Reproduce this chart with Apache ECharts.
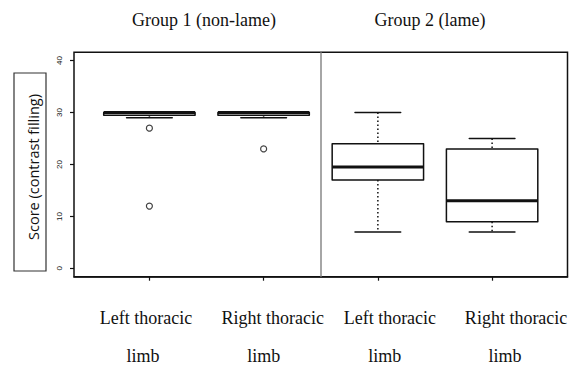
<!DOCTYPE html>
<html>
<head>
<meta charset="utf-8">
<script src="https://cdn.jsdelivr.net/npm/echarts@6/dist/echarts.min.js"></script>
<style>html,body{margin:0;padding:0;background:#fff;}#c{width:577px;height:367px;}</style>
</head>
<body>
<div id="c"></div>
<script>
// ---- data ----
var labelLine1 = ['Left thoracic', 'Right thoracic', 'Left thoracic', 'Right thoracic'];
var labelLine2 = ['limb', 'limb', 'limb', 'limb'];
var positions = [1, 2, 3, 4];
// [min, Q1, median, Q3, max]
var boxValues = [
  [29, 29.5, 30, 30, 30],
  [29, 29.5, 30, 30, 30],
  [7, 17, 19.5, 24, 30],
  [7, 9, 13, 23, 25]
];
var outliers = [[1, 27], [1, 12], [2, 23]];
var groupNames = ['Group 1 (non-lame)', 'Group 2 (lame)'];
var groupCenters = [1.5, 3.5];
var groupDivider = 2.5;
var yTicks = [0, 10, 20, 30, 40];
var yTitle = 'Score (contrast filling)';

// ---- build ----
var boxData = positions.map(function (p, i) { return [p].concat(boxValues[i]); });
var SERIF = 'Liberation Serif, Times New Roman, serif';
var linePads = [[[0, 7], [0, 13]], [[18, 0], [0, 0]], [[24, 0], [14, 0]], [[48, 0], [26, 0]]];
var rich = {};
positions.forEach(function (p, i) {
  rich['a' + i] = { fontFamily: SERIF, fontSize: 18, color: '#111', lineHeight: 38,
    padding: [0, linePads[i][0][1], 0, linePads[i][0][0]] };
  rich['b' + i] = { fontFamily: SERIF, fontSize: 18, color: '#111', lineHeight: 38,
    padding: [0, linePads[i][1][1], 0, linePads[i][1][0]] };
});
var groupPads = [[0, 5], [0, 10]];
var grich = {};
groupCenters.forEach(function (g, i) {
  grich['g' + i] = { fontFamily: SERIF, fontSize: 18, color: '#111', lineHeight: 20,
    padding: [0, groupPads[i][1], 0, groupPads[i][0]] };
});
function catFormatter(v) {
  var i = positions.indexOf(v);
  if (i < 0) return '';
  return '{a' + i + '|' + labelLine1[i] + '}\n{b' + i + '|' + labelLine2[i] + '}';
}
var oddPos = positions.filter(function (p, i) { return i % 2 === 0; });
var evenPos = positions.filter(function (p, i) { return i % 2 === 1; });

var chart = echarts.init(document.getElementById('c'), null, { renderer: 'svg' });
chart.setOption({
  animation: false,
  backgroundColor: '#fff',
  grid: { left: 74, right: 9.5, top: 52.3, bottom: 90.3, outerBoundsMode: 'none', containLabel: false, show: true, borderColor: '#111', borderWidth: 1.5, backgroundColor: 'transparent' },
  xAxis: [{
    type: 'value', min: 0.34, max: 4.66, position: 'bottom',
    axisLine: { show: true, onZero: false, lineStyle: { color: '#111', width: 1.5 } },
    axisTick: { show: true, length: 4, customValues: positions, lineStyle: { color: '#111', width: 1.2 } },
    splitLine: { show: false },
    axisLabel: { customValues: oddPos, margin: 22, showMinLabel: true, showMaxLabel: true, formatter: catFormatter, rich: rich }
  }, {
    type: 'value', min: 0.34, max: 4.66, position: 'top',
    axisLine: { show: false }, axisTick: { show: false }, splitLine: { show: false },
    axisLabel: {
      customValues: groupCenters, margin: 22, showMinLabel: true, showMaxLabel: true,
      formatter: function (v) {
        var i = groupCenters.indexOf(v);
        if (i < 0) return '';
        return '{g' + i + '|' + groupNames[i] + '}';
      },
      rich: grich
    }
  }, {
    type: 'value', min: 0.34, max: 4.66, position: 'bottom', offset: 0,
    axisLine: { show: false, onZero: false }, axisTick: { show: false }, splitLine: { show: false },
    axisLabel: { customValues: evenPos, margin: 22, showMinLabel: true, showMaxLabel: true, formatter: catFormatter, rich: rich }
  }],
  yAxis: {
    type: 'value', min: -1.6, max: 41.6,
    axisLine: { show: false },
    axisTick: { show: true, length: 4, customValues: yTicks, lineStyle: { color: '#111', width: 1.2 } },
    splitLine: { show: false },
    axisLabel: { customValues: yTicks, rotate: 90, margin: 11, fontSize: 8, color: '#111', showMinLabel: true, showMaxLabel: true, fontFamily: 'Liberation Sans, Arial, sans-serif' }
  },
  graphic: [{
    type: 'rect', shape: { x: 14, y: 73, width: 32, height: 198 },
    style: { fill: 'none', stroke: '#333', lineWidth: 1.2 }
  }, {
    type: 'text', x: 33, y: 167, rotation: Math.PI / 2,
    style: { text: yTitle, fontFamily: 'Open Sans, sans-serif', fontSize: 14.5, fill: '#111', align: 'center', verticalAlign: 'middle' }
  }],
  series: [{
    type: 'custom',
    xAxisIndex: 0,
    data: boxData,
    encode: { x: 0, y: [1, 2, 3, 4, 5] },
    renderItem: function (params, api) {
      var x = api.value(0);
      var mn = api.value(1), q1 = api.value(2), md = api.value(3), q3 = api.value(4), mx = api.value(5);
      var bh = 0.4, ch = 0.2;
      var L = api.coord([x - bh, q3]), R = api.coord([x + bh, q1]);
      var c = api.coord([x, 0])[0];
      var yMin = api.coord([x, mn])[1], yMax = api.coord([x, mx])[1];
      var yQ1 = api.coord([x, q1])[1], yQ3 = api.coord([x, q3])[1], yMd = api.coord([x, md])[1];
      var cl = api.coord([x - ch, 0])[0], cr = api.coord([x + ch, 0])[0];
      var solid = { stroke: '#111', lineWidth: 1.5, lineCap: 'round', lineJoin: 'round' };
      var dotted = { stroke: '#111', lineWidth: 1.5, lineDash: [1.5, 2.5] };
      return {
        type: 'group', children: [
          { type: 'line', shape: { x1: c, y1: yMax, x2: c, y2: yQ3 }, style: dotted },
          { type: 'line', shape: { x1: c, y1: yQ1, x2: c, y2: yMin }, style: dotted },
          { type: 'line', shape: { x1: cl, y1: yMax, x2: cr, y2: yMax }, style: solid },
          { type: 'line', shape: { x1: cl, y1: yMin, x2: cr, y2: yMin }, style: solid },
          { type: 'rect', shape: { x: L[0], y: yQ3, width: R[0] - L[0], height: yQ1 - yQ3 }, style: { fill: '#fff', stroke: '#111', lineWidth: 1.5, lineJoin: 'round' } },
          { type: 'line', shape: { x1: L[0], y1: yMd, x2: R[0], y2: yMd }, style: { stroke: '#111', lineWidth: 3 } }
        ]
      };
    }
  }, {
    type: 'scatter',
    xAxisIndex: 0,
    data: outliers,
    symbol: 'circle', symbolSize: 6,
    itemStyle: { color: '#fff', borderColor: '#111', borderWidth: 1.2 },
    markLine: {
      silent: true, symbol: ['none', 'none'], label: { show: false },
      lineStyle: { color: '#888', width: 1.5, type: 'solid' },
      data: [{ xAxis: groupDivider }]
    }
  }]
});
</script>
</body>
</html>
